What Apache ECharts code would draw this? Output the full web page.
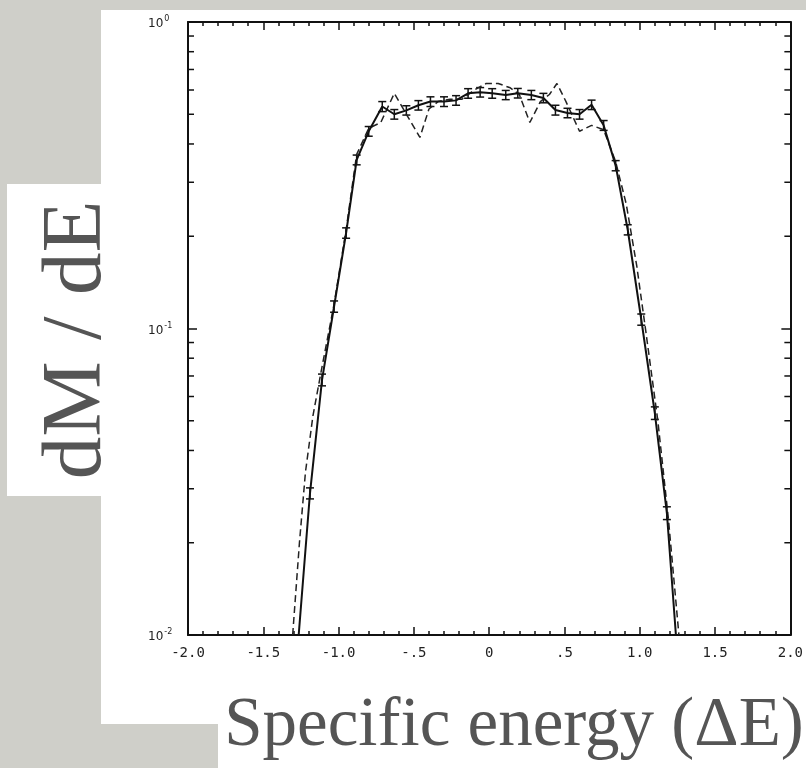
<!DOCTYPE html>
<html>
<head>
<meta charset="utf-8">
<script src="https://cdn.jsdelivr.net/npm/echarts@6/dist/echarts.min.js"></script>
<style>
html,body{margin:0;padding:0;background:#cfcfc9;}
#chart{width:806px;height:768px;}
</style>
</head>
<body>
<div id="chart"></div>
<script>
// ---- data ----
const xTickLabels = ['-2.0','-1.5','-1.0','-.5','0','.5','1.0','1.5','2.0'];
const yTickBase = ['10','10','10'];
const yTickExp = ['-2','-1','0'];
const yMinorTicks = [0.02,0.03,0.04,0.05,0.06,0.07,0.08,0.09,0.2,0.3,0.4,0.5,0.6,0.7,0.8,0.9];

const solidX = [-1.265,-1.19,-1.11,-1.03,-0.95,-0.88,-0.80,-0.71,-0.63,-0.55,-0.47,-0.39,-0.30,-0.22,-0.14,-0.06,0.02,0.11,0.19,0.28,0.36,0.44,0.52,0.60,0.68,0.76,0.84,0.92,1.01,1.10,1.18,1.24];
const solidY = [0.01,0.029,0.068,0.118,0.205,0.355,0.44,0.53,0.50,0.515,0.535,0.55,0.55,0.555,0.585,0.59,0.585,0.578,0.586,0.578,0.565,0.516,0.505,0.50,0.537,0.46,0.34,0.21,0.107,0.053,0.025,0.01];
const solidErr = [0,0.0012,0.003,0.005,0.008,0.013,0.016,0.02,0.018,0.018,0.019,0.02,0.02,0.02,0.021,0.021,0.021,0.02,0.021,0.02,0.02,0.019,0.018,0.018,0.019,0.017,0.013,0.008,0.0045,0.0025,0.0012,0];

const dashX = [-1.305,-1.26,-1.22,-1.17,-1.11,-1.03,-0.95,-0.88,-0.80,-0.72,-0.63,-0.55,-0.46,-0.40,-0.34,-0.26,-0.18,-0.10,-0.02,0.06,0.14,0.20,0.27,0.34,0.40,0.45,0.51,0.60,0.68,0.76,0.84,0.91,0.98,1.04,1.12,1.19,1.26];
const dashY = [0.01,0.02,0.034,0.052,0.075,0.12,0.21,0.37,0.45,0.47,0.585,0.50,0.42,0.52,0.55,0.56,0.56,0.60,0.63,0.63,0.61,0.58,0.47,0.55,0.58,0.63,0.55,0.44,0.46,0.445,0.35,0.255,0.16,0.098,0.05,0.024,0.01];

// ---- build ----
const solidData = solidX.map((x,i)=>[x, solidY[i]]);
const errData = solidX.map((x,i)=>[x, solidY[i], solidErr[i]]).filter(d=>d[2]>0);
const dashData = dashX.map((x,i)=>[x, dashY[i]]);
const minorData = yMinorTicks.map(v=>[-2, v]);

const chart = echarts.init(document.getElementById('chart'), null, {renderer:'canvas'});
const axisCol = '#111';
const xLabelFmt = v => xTickLabels[Math.round((v + 2) / 0.5)] ?? '';
const yLabelFmt = v => {
  const i = Math.round(Math.log10(v)) + 2;
  if (i < 0 || i > 2) return '';
  return '{b|' + yTickBase[i] + '}{s|' + yTickExp[i] + '}';
};

chart.setOption({
  backgroundColor: '#cfcfc9',
  animation: false,
  graphic: [
    {type:'rect', shape:{x:101,y:10,width:705,height:714}, style:{fill:'#ffffff'}, z:0},
    {type:'rect', shape:{x:7,y:184,width:94,height:312}, style:{fill:'#ffffff'}, z:0},
    {type:'rect', shape:{x:218,y:724,width:588,height:44}, style:{fill:'#ffffff'}, z:0},
    {type:'text', x:78, y:340, rotation:Math.PI/2, z:1,
      style:{text:'dM / dE', font:'85px "Liberation Serif"', fill:'#555555', textAlign:'center', textVerticalAlign:'middle'}},
    {type:'text', x:514, y:727, z:1,
      style:{text:'Specific energy (\u0394E)', font:'69px "Liberation Serif"', fill:'#555555', textAlign:'center', textVerticalAlign:'middle'}}
  ],
  grid: {left:188, right:14, top:22, bottom:133, containLabel:false},
  xAxis: [
    {type:'value', min:-2, max:2, interval:0.5,
     axisLine:{onZero:false, lineStyle:{color:axisCol, width:2}},
     axisTick:{inside:true, length:8, lineStyle:{color:axisCol, width:1.5}},
     minorTick:{show:true, splitNumber:5, length:4, lineStyle:{color:axisCol, width:1.5}},
     splitLine:{show:false},
     axisLabel:{formatter:xLabelFmt, margin:11, fontFamily:'DejaVu Sans Mono', fontSize:14, color:'#222'}},
    {type:'value', position:'top', min:-2, max:2, interval:0.5,
     axisLine:{onZero:false, lineStyle:{color:axisCol, width:2}},
     axisTick:{inside:true, length:8, lineStyle:{color:axisCol, width:1.5}},
     minorTick:{show:true, splitNumber:5, length:4, lineStyle:{color:axisCol, width:1.5}},
     splitLine:{show:false}, axisLabel:{show:false}}
  ],
  yAxis: [
    {type:'log', logBase:10, min:0.01, max:1,
     axisLine:{onZero:false, lineStyle:{color:axisCol, width:2}},
     axisTick:{inside:true, length:9, lineStyle:{color:axisCol, width:1.5}},
     splitLine:{show:false},
     axisLabel:{formatter:yLabelFmt, margin:40, align:'left', color:'#222',
       rich:{
         b:{fontFamily:'DejaVu Sans', fontSize:12, color:'#222', lineHeight:14, padding:[4,0,0,0]},
         s:{fontFamily:'DejaVu Sans', fontSize:8, color:'#222', lineHeight:10, padding:[0,0,6,1]}
       }}},
    {type:'log', logBase:10, min:0.01, max:1, position:'right',
     axisLine:{onZero:false, lineStyle:{color:axisCol, width:2}},
     axisTick:{inside:true, length:9, lineStyle:{color:axisCol, width:1.5}},
     splitLine:{show:false}, axisLabel:{show:false}}
  ],
  series: [
    {type:'custom', name:'yMinor', data:minorData, silent:true, clip:false,
     renderItem:(params, api)=>{
       const v = api.value(1);
       const pl = api.coord([-2, v]);
       const pr = api.coord([2, v]);
       const st = {stroke:axisCol, lineWidth:1.5};
       return {type:'group', children:[
         {type:'line', shape:{x1:pl[0], y1:pl[1], x2:pl[0]+6, y2:pl[1]}, style:st},
         {type:'line', shape:{x1:pr[0], y1:pr[1], x2:pr[0]-6, y2:pr[1]}, style:st}
       ]};
     }},
    {type:'line', name:'dashed', data:dashData, symbol:'none', clip:true,
     lineStyle:{color:'#222', width:1.5, type:[7,4]}},
    {type:'line', name:'solid', data:solidData, symbol:'none', clip:true,
     lineStyle:{color:'#111', width:2}},
    {type:'custom', name:'err', data:errData, silent:true,
     renderItem:(params, api)=>{
       const x = api.value(0), y = api.value(1), e = api.value(2);
       const lo = api.coord([x, y - e]);
       const hi = api.coord([x, y + e]);
       const st = {stroke:'#111', lineWidth:1.5};
       return {type:'group', children:[
         {type:'line', shape:{x1:lo[0], y1:lo[1], x2:hi[0], y2:hi[1]}, style:st},
         {type:'line', shape:{x1:lo[0]-4, y1:lo[1], x2:lo[0]+4, y2:lo[1]}, style:st},
         {type:'line', shape:{x1:hi[0]-4, y1:hi[1], x2:hi[0]+4, y2:hi[1]}, style:st}
       ]};
     }}
  ]
});
</script>
</body>
</html>
